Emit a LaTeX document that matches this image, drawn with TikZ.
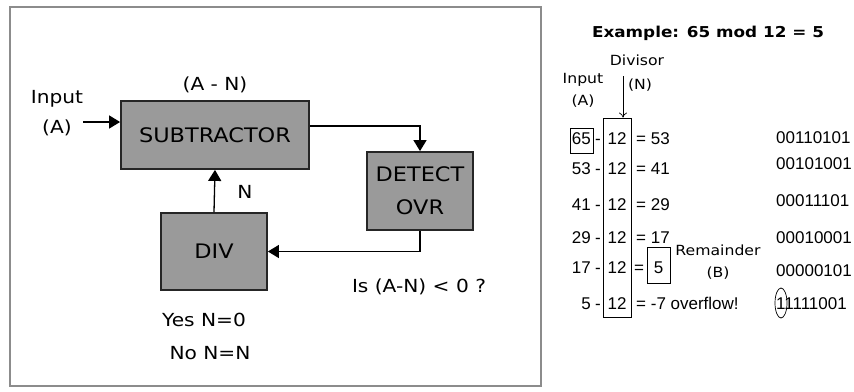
\documentclass[tikz,border=0pt]{standalone}
\usepackage{fontspec}
\usepackage{tikz}
\usetikzlibrary{arrows.meta}
\newfontfamily\comicfont[FakeStretch=1.12]{DejaVu Sans}
\newfontfamily\arialfont{Liberation Sans}
\definecolor{boxgray}{HTML}{9A9A9A}
\definecolor{framegray}{HTML}{8C8C8C}

\tikzset{
  block/.style={draw=black!85, line width=1.8pt, fill=boxgray, inner sep=0pt,
    font=\comicfont\fontsize{20}{33}\selectfont, align=center},
  flow/.style={line width=1.3pt, -{Triangle[length=11pt,width=13pt]}},
  lbl/.style={font=\comicfont\fontsize{18}{30}\selectfont, inner sep=0pt},
  small/.style={font=\comicfont\fontsize{14}{22}\selectfont, inner sep=0pt},
  num/.style={font=\arialfont\fontsize{17}{20}\selectfont, inner sep=0pt}
}

\begin{document}
\begin{tikzpicture}[x=1pt, y=-1pt]
    \useasboundingbox (0,0) rectangle (854,391);
    \draw[framegray, line width=1.5pt] (10,7) rectangle (541,386);

    % block diagram
    \node[block, minimum width=188, minimum height=68] (sub) at (215,135) {SUBTRACTOR};
    \node[block, minimum width=106, minimum height=78] (det) at (420,191) {DETECT\\OVR};
    \node[block, minimum width=106, minimum height=77] (div) at (214,251.5) {DIV};

    \node[lbl, align=center] (inp) at (57,113) {Input\\(A)};
    \coordinate (inend) at (83,122);
    \draw[flow] (inend) -- (inend -| sub.west);
    \node[lbl] (diff) at (215,85) {(A - N)};
    \draw[flow] ([yshift=9pt]sub.east) -| (det.north);
    \draw[flow] (det.south) |- (div.east);
    \draw[flow] (div.north) -- (sub.south);
    \node[lbl] (nlbl) at (245,192) {N};
    \node[lbl] (test) at (419,287) {Is (A-N) < 0 ?};
    \node[lbl] (yes) at (204,320) {Yes N=0};
    \node[lbl] (no) at (210,353) {No N=N};

    % worked example (rows placed on their baselines)
    \node[font=\comicfont\bfseries\fontsize{15}{20}\selectfont] (title) at (708,33) {Example: 65 mod 12 = 5};
    \node[small] (divisor) at (637,60) {Divisor};
    \node[small] (nn) at (640,85) {(N)};
    \node[small, align=center] (inpa) at (583,90) {Input\\(A)};
    \node[draw, line width=0.8pt, minimum width=28, minimum height=199, inner sep=0pt] (col) at (617,217.5) {};
    \coordinate (divtop) at (623,76);
    \draw[line width=0.7pt, -{To[length=5pt,width=8pt]}] (divtop) -- (divtop |- col.north);

    \foreach \a/\y in {65/144, 53/174, 41/210, 29/243, 17/273, 5/309} {
      \node[num, anchor=base east] (a\a) at (591,\y) {\a};
      \node[num, anchor=base] at (598,\y) {-};
      \node[num, anchor=base] at (617,\y) {12};
    }
    \draw[line width=0.8pt] (570,128) rectangle (593,153);
    \foreach \r/\y in {53/144, 41/174, 29/210, 17/243} {
      \node[num, anchor=base west] at (636,\y) {= \r};
    }
    \node[num, anchor=base west] at (634,273) {=};
    \node[draw, line width=0.8pt, minimum width=23, minimum height=36, inner sep=0pt] (rem) at (658.5,265) {};
    \node[num, anchor=base] at (rem.center |- 0,273) {5};
    \node[num, anchor=base west] at (636,309) {= -7 overflow!};
    \node[small, align=center] (remlbl) at (718,262) {Remainder\\(B)};

    \foreach \b/\y in {00110101/143, 00101001/169, 00011101/206, 00010001/243, 00000101/276} {
      \node[num, anchor=base west] at (776,\y) {\b};
    }
    \node[num, anchor=base west] (ovf) at (776,309) {11111001};
    \draw[line width=0.7pt] (781,303) ellipse [x radius=6, y radius=15];
\end{tikzpicture}
\end{document}
